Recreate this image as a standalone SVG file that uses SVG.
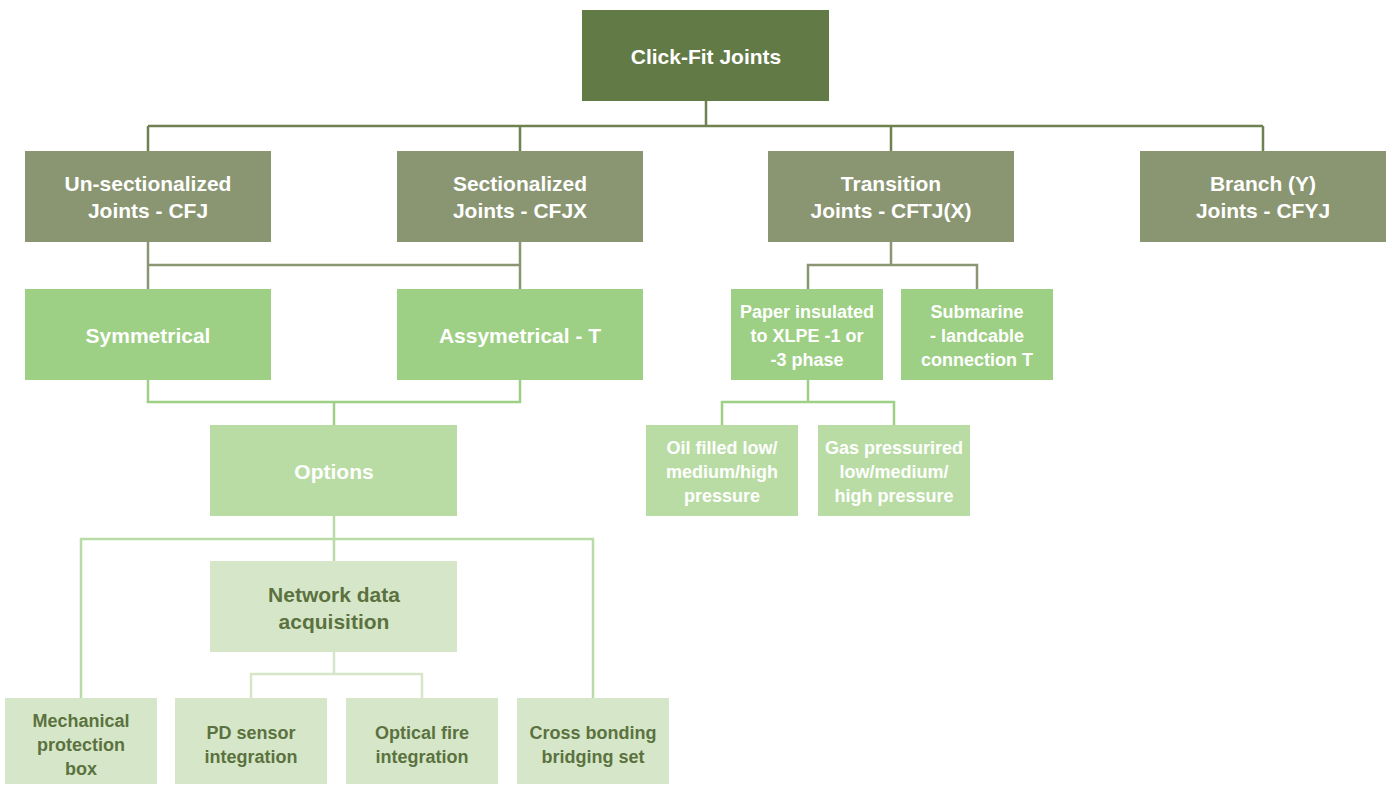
<svg xmlns="http://www.w3.org/2000/svg" width="1392" height="785" viewBox="0 0 1392 785">
<style>
text{font-family:"Liberation Sans Narrow","Liberation Sans",sans-serif;font-weight:bold;text-anchor:middle;}
.c0{fill:#627a45}.c1{fill:#8a9672}.c2{fill:#9dcf84}.c3{fill:#b9dca5}.c4{fill:#d6e7c9}
.w{fill:#ffffff}.d{fill:#5b7240}
.l0{stroke:#6f8150}.l1{stroke:#8a9672}.l2{stroke:#9dcf84}.l3{stroke:#b9dca5}.l4{stroke:#d6e7c9}
#connectors path{fill:none;stroke-width:2.5}
</style>
<rect width="1392" height="785" fill="#ffffff"/>
<g id="connectors">
<path class="l0" d="M706 101V126M148 126H1263M148 126V151M520 126V151M891 126V151M1263 126V151"/>
<path class="l1" d="M148 242V265H520M520 242V289M148 265V289"/>
<path class="l1" d="M891 242V265M808 289V265H977V289"/>
<path class="l2" d="M148 380V402H520V380M334 402V425"/>
<path class="l2" d="M808 380V402M722 425V402H894V425"/>
<path class="l3" d="M334 516V561M81 698V539H593V698"/>
<path class="l4" d="M334 652V674M251 698V674H422V698"/>
</g>
<g id="n-root"><rect class="c0" x="582" y="10" width="247" height="91"/><text class="w" x="706" y="64" font-size="21">Click-Fit Joints</text></g>
<g id="n-unsec"><rect class="c1" x="25" y="151" width="246" height="91"/><text class="w" font-size="21"><tspan x="148" y="191">Un-sectionalized</tspan><tspan x="148" y="218">Joints - CFJ</tspan></text></g>
<g id="n-sec"><rect class="c1" x="397" y="151" width="246" height="91"/><text class="w" font-size="21"><tspan x="520" y="191">Sectionalized</tspan><tspan x="520" y="218">Joints - CFJX</tspan></text></g>
<g id="n-trans"><rect class="c1" x="768" y="151" width="246" height="91"/><text class="w" font-size="21"><tspan x="891" y="191">Transition</tspan><tspan x="891" y="218">Joints - CFTJ(X)</tspan></text></g>
<g id="n-branch"><rect class="c1" x="1140" y="151" width="246" height="91"/><text class="w" font-size="21"><tspan x="1263" y="191">Branch (Y)</tspan><tspan x="1263" y="218">Joints - CFYJ</tspan></text></g>
<g id="n-sym"><rect class="c2" x="25" y="289" width="246" height="91"/><text class="w" x="148" y="343" font-size="21">Symmetrical</text></g>
<g id="n-asym"><rect class="c2" x="397" y="289" width="246" height="91"/><text class="w" x="520" y="343" font-size="21">Assymetrical - T</text></g>
<g id="n-paper"><rect class="c2" x="731" y="289" width="152" height="91"/><text class="w" font-size="18"><tspan x="807" y="318">Paper insulated</tspan><tspan x="807" y="342">to XLPE -1 or</tspan><tspan x="807" y="366">-3 phase</tspan></text></g>
<g id="n-sub"><rect class="c2" x="901" y="289" width="152" height="91"/><text class="w" font-size="18"><tspan x="977" y="318">Submarine</tspan><tspan x="977" y="342">- landcable</tspan><tspan x="977" y="366">connection T</tspan></text></g>
<g id="n-options"><rect class="c3" x="210" y="425" width="247" height="91"/><text class="w" x="334" y="479" font-size="21">Options</text></g>
<g id="n-oil"><rect class="c3" x="646" y="425" width="152" height="91"/><text class="w" font-size="18"><tspan x="722" y="454">Oil filled low/</tspan><tspan x="722" y="478">medium/high</tspan><tspan x="722" y="502">pressure</tspan></text></g>
<g id="n-gas"><rect class="c3" x="818" y="425" width="152" height="91"/><text class="w" font-size="18"><tspan x="894" y="454">Gas pressurired</tspan><tspan x="894" y="478">low/medium/</tspan><tspan x="894" y="502">high pressure</tspan></text></g>
<g id="n-nda"><rect class="c4" x="210" y="561" width="247" height="91"/><text class="d" font-size="21"><tspan x="334" y="602">Network data</tspan><tspan x="334" y="629">acquisition</tspan></text></g>
<g id="n-mech"><rect class="c4" x="5" y="698" width="152" height="86"/><text class="d" font-size="18"><tspan x="81" y="727">Mechanical</tspan><tspan x="81" y="751">protection</tspan><tspan x="81" y="775">box</tspan></text></g>
<g id="n-pd"><rect class="c4" x="175" y="698" width="152" height="86"/><text class="d" font-size="18"><tspan x="251" y="739">PD sensor</tspan><tspan x="251" y="763">integration</tspan></text></g>
<g id="n-opt"><rect class="c4" x="346" y="698" width="152" height="86"/><text class="d" font-size="18"><tspan x="422" y="739">Optical fire</tspan><tspan x="422" y="763">integration</tspan></text></g>
<g id="n-cross"><rect class="c4" x="517" y="698" width="152" height="86"/><text class="d" font-size="18"><tspan x="593" y="739">Cross bonding</tspan><tspan x="593" y="763">bridging set</tspan></text></g>
</svg>
